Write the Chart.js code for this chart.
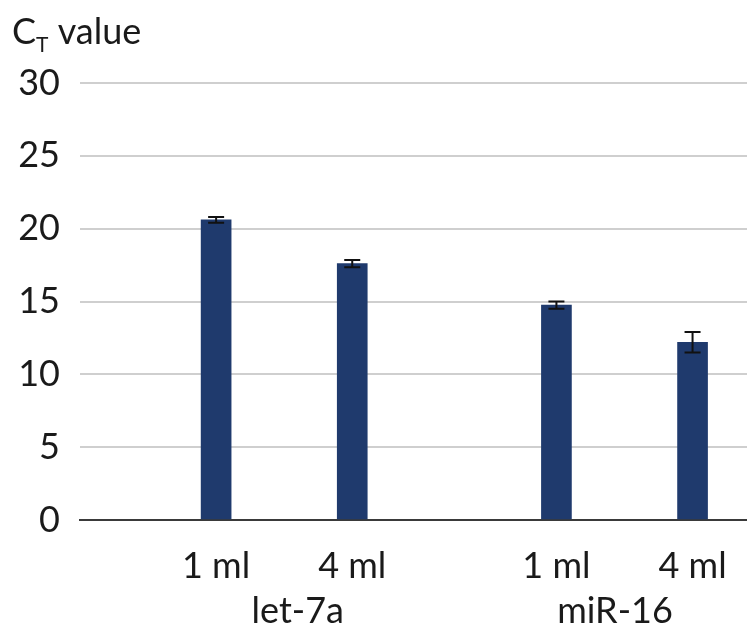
<!DOCTYPE html>
<html>
<head>
<meta charset="utf-8">
<title>CT value</title>
<script src="https://cdn.jsdelivr.net/npm/chart.js@4.4.1/dist/chart.umd.min.js"></script>
<style>
  html, body { margin: 0; padding: 0; background: #ffffff; }
  #wrap { width: 747px; height: 638px; }
</style>
</head>
<body>
<div id="wrap"><canvas id="chart" width="747" height="638"></canvas></div>
<script>
// Sample volumes per target, plotted on a numeric x axis so the two targets sit apart
const doseLabels = ['1 ml', '4 ml', '1 ml', '4 ml'];
const doseX = [1, 2, 3.5, 4.5];
// Mean CT values and their error (±)
const ctValues = [20.6, 17.6, 14.75, 12.2];
const ctErrors = [0.2, 0.25, 0.25, 0.7];
// Target names shown on the second label row
const groupLabels = ['let-7a', 'miR-16'];
const groupX = [1.6, 3.93];
// Value axis ticks
const yTicks = [0, 5, 10, 15, 20, 25, 30];

const FONT = 'Lato, "Noto Sans", sans-serif';
const TEXT = '#1a1a1a';

const errorBars = {
  id: 'errorBars',
  afterDatasetsDraw(chart) {
    const ctx = chart.ctx;
    const y = chart.scales.y;
    const meta = chart.getDatasetMeta(0);
    ctx.save();
    ctx.strokeStyle = '#111111';
    ctx.lineWidth = 2;
    meta.data.forEach((bar, i) => {
      const top = y.getPixelForValue(ctValues[i] + ctErrors[i]);
      const bot = y.getPixelForValue(ctValues[i] - ctErrors[i]);
      const half = 8;
      ctx.beginPath();
      ctx.moveTo(bar.x, top); ctx.lineTo(bar.x, bot);
      ctx.moveTo(bar.x - half, top); ctx.lineTo(bar.x + half, top);
      ctx.moveTo(bar.x - half, bot); ctx.lineTo(bar.x + half, bot);
      ctx.stroke();
    });
    ctx.restore();
  }
};

const axisTitle = {
  id: 'axisTitle',
  afterDraw(chart) {
    const ctx = chart.ctx;
    ctx.save();
    ctx.fillStyle = TEXT;
    ctx.textBaseline = 'alphabetic';
    ctx.textAlign = 'left';
    let x = 12;
    const base = 44;
    ctx.font = '36px ' + FONT;
    ctx.fillText('C', x, base);
    x += ctx.measureText('C').width;
    ctx.font = '21px ' + FONT;
    ctx.fillText('T', x, base + 8);
    x += ctx.measureText('T').width;
    ctx.font = '36px ' + FONT;
    ctx.fillText(' value', x, base);
    ctx.restore();
  }
};

new Chart(document.getElementById('chart'), {
  type: 'bar',
  data: {
    datasets: [{
      data: doseX.map((x, i) => ({ x: x, y: ctValues[i] })),
      backgroundColor: '#1f3a6d',
      borderWidth: 0,
      barThickness: 30
    }]
  },
  options: {
    responsive: false,
    animation: false,
    layout: { padding: { top: 83, right: 0, left: 0, bottom: 0 } },
    plugins: {
      legend: { display: false },
      tooltip: { enabled: false }
    },
    scales: {
      x: {
        type: 'linear',
        offset: false,
        min: 0,
        max: 4.9,
        afterBuildTicks(scale) {
          scale.ticks = doseX.map(v => ({ value: v })).concat(groupX.map(v => ({ value: v })));
        },
        afterFit(scale) {
          scale.height = 118;
          scale.paddingLeft = 0;
          scale.paddingRight = 0;
        },
        grid: { display: false, drawTicks: false, offset: false },
        border: { display: true, color: '#3a3a3a', width: 2 },
        ticks: {
          autoSkip: false,
          maxRotation: 0,
          padding: 24,
          color: TEXT,
          font: { family: FONT, size: 36, lineHeight: 1.25 },
          callback(value, index) {
            if (index < doseLabels.length) return doseLabels[index];
            return ['', groupLabels[index - doseLabels.length]];
          }
        }
      },
      y: {
        min: 0,
        max: 30,
        afterBuildTicks(scale) {
          scale.ticks = yTicks.map(v => ({ value: v }));
        },
        afterFit(scale) { scale.width = 80; },
        grid: {
          drawTicks: false,
          lineWidth: 2,
          color: ctx => ctx.tick && ctx.tick.value === 0 ? 'rgba(0,0,0,0)' : '#cfcfcf'
        },
        border: { display: false },
        ticks: {
          padding: 20,
          color: TEXT,
          font: { family: FONT, size: 36 }
        }
      }
    }
  },
  plugins: [errorBars, axisTitle]
});
</script>
</body>
</html>
